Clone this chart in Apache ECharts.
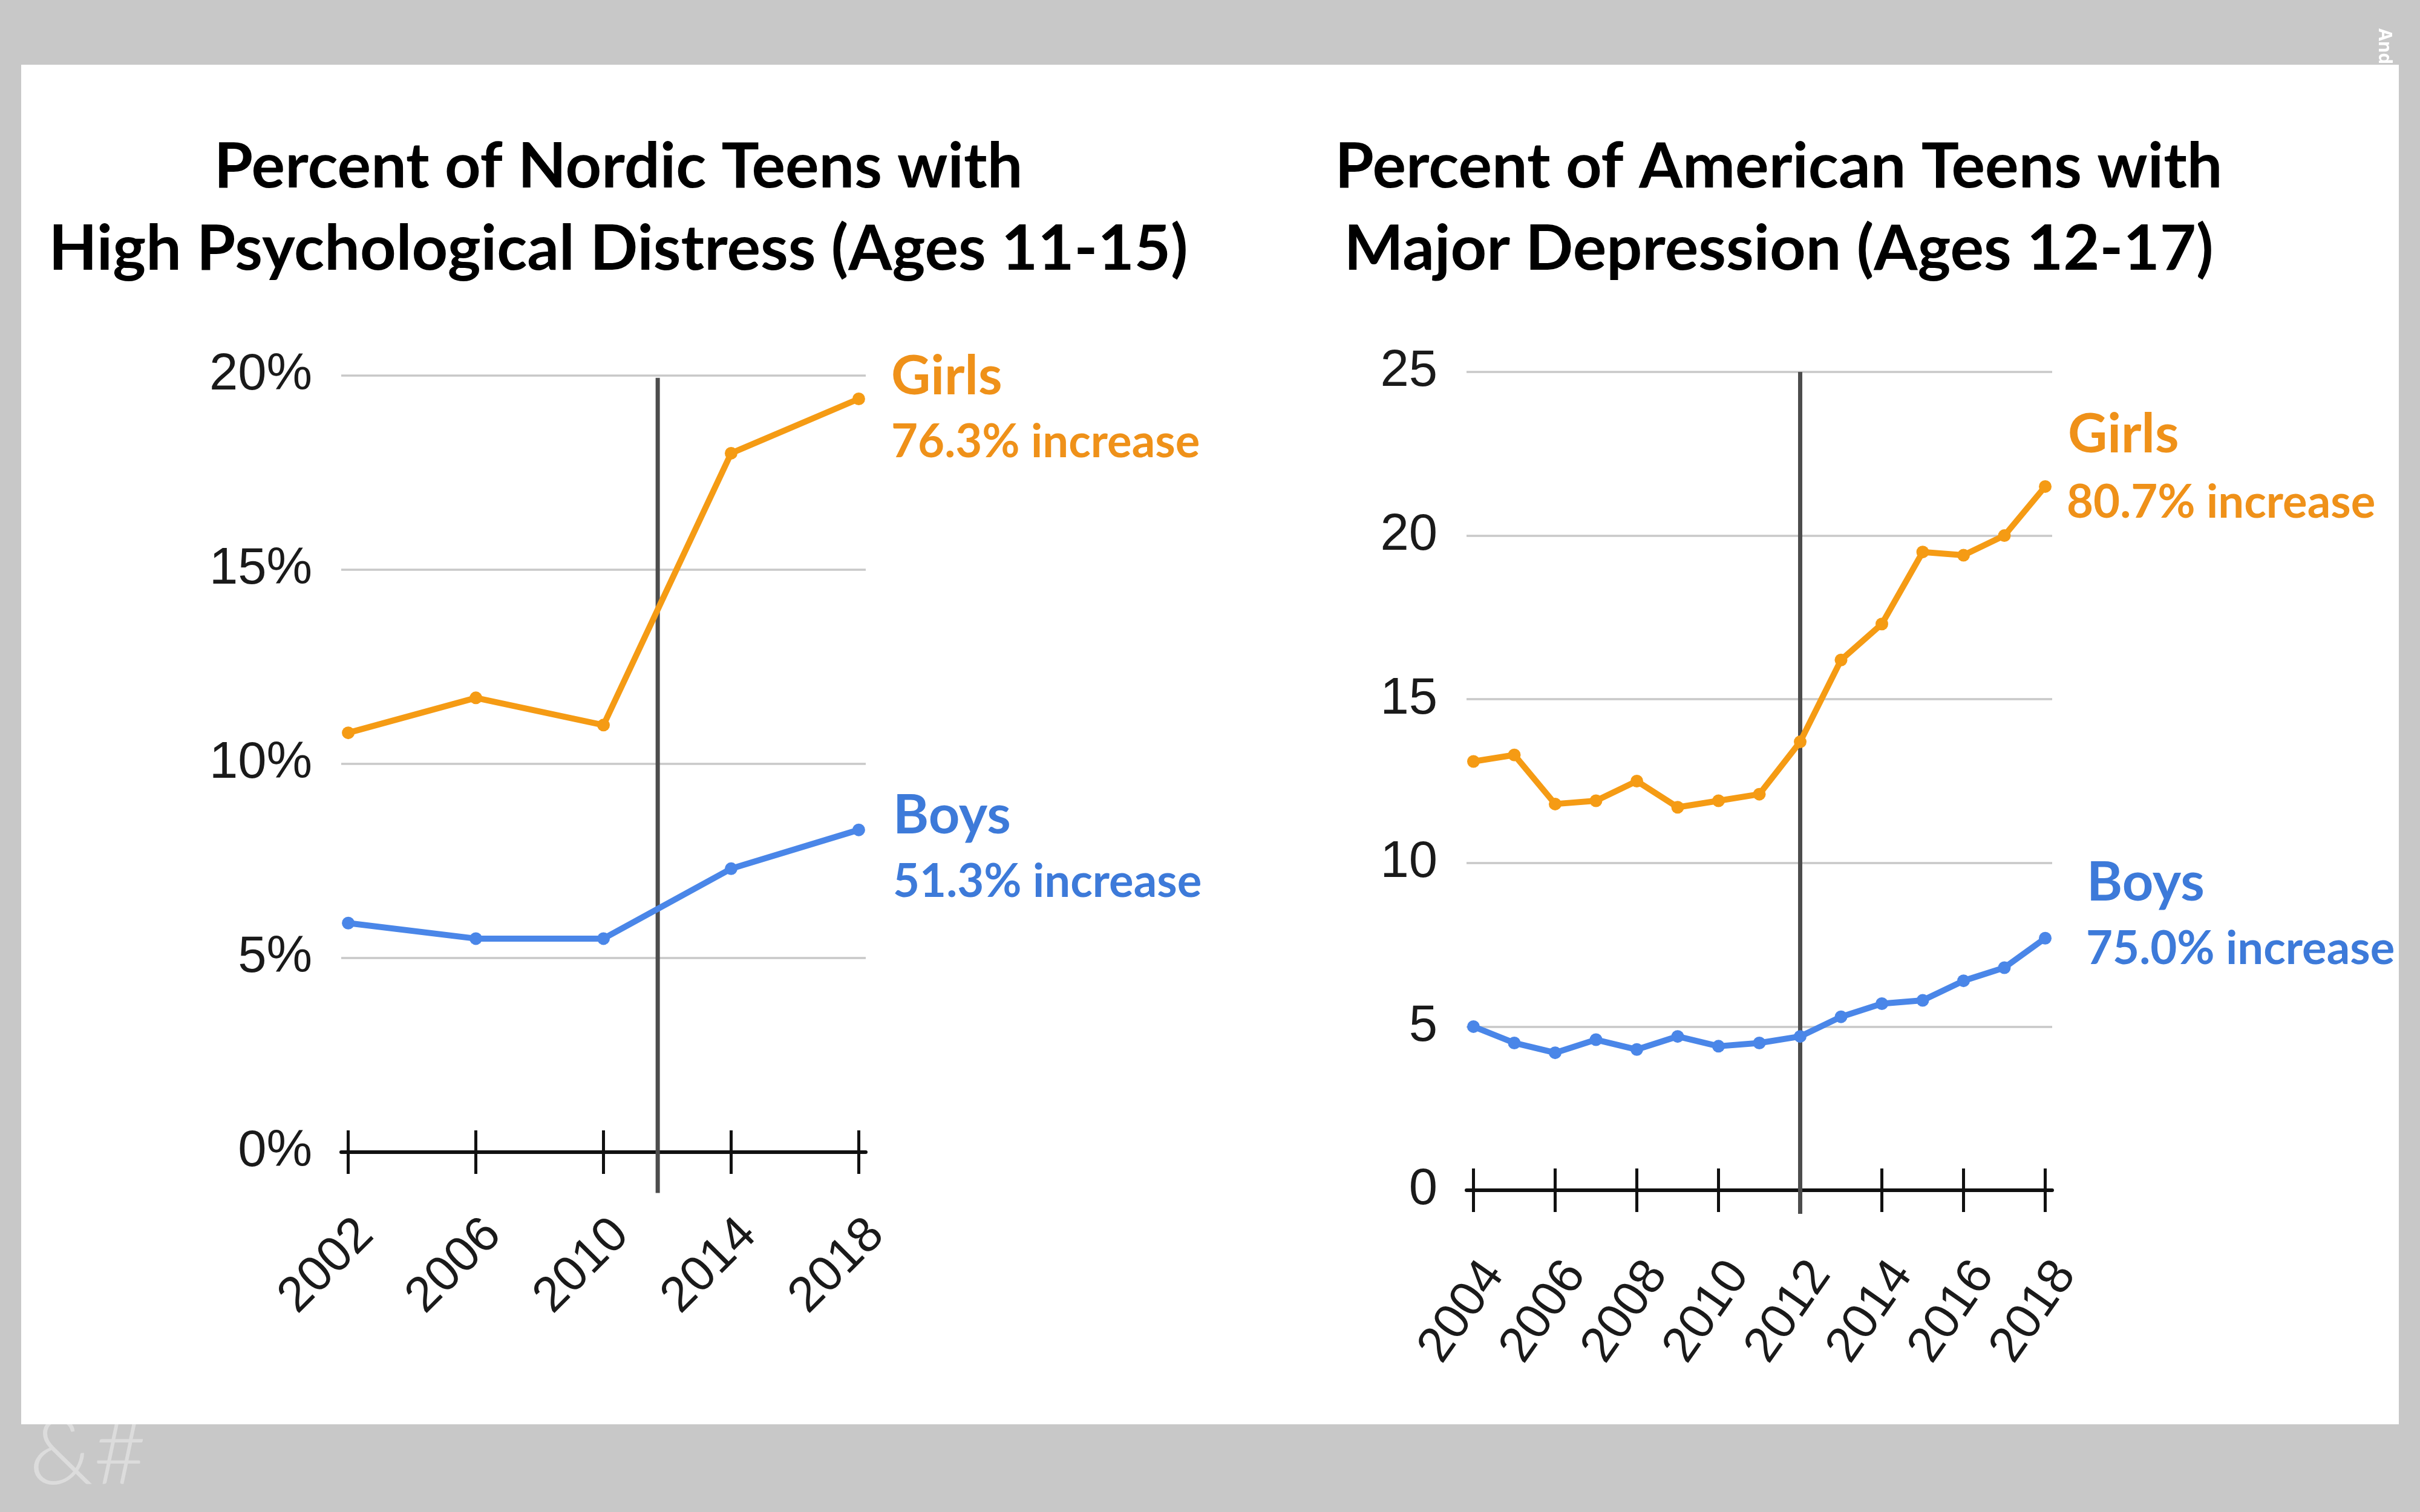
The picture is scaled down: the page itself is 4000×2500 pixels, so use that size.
<!DOCTYPE html>
<html>
<head>
<meta charset="utf-8">
<script src="https://cdn.jsdelivr.net/npm/echarts@6/dist/echarts.min.js"></script>
<style>
  html, body { margin: 0; padding: 0; background: #c8c8c8; }
  #main { width: 4000px; height: 2500px; }
</style>
</head>
<body>
<div id="main"></div>
<script>
// ---------- data ----------
const nordicYears = [2002, 2006, 2010, 2014, 2018];
const nordicGirls = [10.8, 11.7, 11.0, 18.0, 19.4];
const nordicBoys  = [5.9, 5.5, 5.5, 7.3, 8.3];
const nordicTicks = [2002, 2006, 2010, 2014, 2018];
const nordicBreakYear = 2011.7;
const nordicBreakSpan = [19.94, -1.05];

const usYears = [2004, 2005, 2006, 2007, 2008, 2009, 2010, 2011, 2012, 2013, 2014, 2015, 2016, 2017, 2018];
const usGirls = [13.1, 13.3, 11.8, 11.9, 12.5, 11.7, 11.9, 12.1, 13.7, 16.2, 17.3, 19.5, 19.4, 20.0, 21.5];
const usBoys  = [5.0, 4.5, 4.2, 4.6, 4.3, 4.7, 4.4, 4.5, 4.7, 5.3, 5.7, 5.8, 6.4, 6.8, 7.7];
const usTicks = [2004, 2006, 2008, 2010, 2012, 2014, 2016, 2018];
const usBreakYear = 2012;
const usBreakSpan = [25, -0.72];

const titleLeft  = ['Percent of Nordic Teens with', 'High Psychological Distress (Ages 11-15)'];
const titleRight = ['Percent of American Teens with', 'Major Depression (Ages 12-17)'];
const nordicNotes = ['Girls', '76.3% increase', 'Boys', '51.3% increase'];
const usNotes     = ['Girls', '80.7% increase', 'Boys', '75.0% increase'];

// ---------- style ----------
const ORANGE = '#f59b14';
const BLUE = '#4a86e8';
const ORANGE_TXT = '#ef9119';
const BLUE_TXT = '#3d7ad9';
const AXIS = '#111111';
const LABEL = '#1a1a1a';
const GRIDC = '#c8c8c8';

const chart = echarts.init(document.getElementById('main'), null, {renderer: 'canvas', width: 4000, height: 2500});

function pairs(xs, ys) { return xs.map((x, i) => [x, ys[i]]); }

function txt(x, y, text, size, color, align) {
  return {
    type: 'text', x: x, y: y, z: 10, silent: true,
    style: {
      text: text, fontSize: size, fontFamily: 'Lato', fontWeight: 'bold', fill: color,
      textAlign: align, textVerticalAlign: 'middle', align: align, verticalAlign: 'middle'
    }
  };
}

function xAxes(gridIndex, min, max, ticks, rotate, margin) {
  const tickStyle = {color: AXIS, width: 5};
  return [
    {
      gridIndex: gridIndex, type: 'value', min: min, max: max, position: 'bottom', z: 3,
      axisLine: {show: true, onZero: false, lineStyle: {color: AXIS, width: 6}},
      axisTick: {show: true, customValues: ticks, length: 36, inside: false, lineStyle: tickStyle},
      axisLabel: {
        customValues: ticks, formatter: v => String(v), rotate: rotate,
        align: 'right', verticalAlign: 'top', margin: margin,
        fontSize: 82, fontFamily: 'Liberation Sans', color: LABEL
      },
      splitLine: {show: false}
    },
    {
      gridIndex: gridIndex, type: 'value', min: min, max: max, position: 'bottom', z: 3,
      axisLine: {show: false},
      axisTick: {show: true, customValues: ticks, length: 36, inside: true, lineStyle: tickStyle},
      axisLabel: {show: false},
      splitLine: {show: false}
    }
  ];
}

function yAxis(gridIndex, max, fmt) {
  return {
    gridIndex: gridIndex, type: 'value', min: 0, max: max, interval: 5, z: 1,
    axisLine: {show: false}, axisTick: {show: false},
    axisLabel: {formatter: fmt, fontSize: 85, margin: 48, color: LABEL, fontFamily: 'Liberation Sans'},
    splitLine: {show: true, lineStyle: {color: GRIDC, width: 3.5}}
  };
}

function dataLine(xi, yi, data, color) {
  return {
    type: 'line', xAxisIndex: xi, yAxisIndex: yi, data: data, z: 5,
    symbol: 'circle', symbolSize: 21, showSymbol: true,
    lineStyle: {color: color, width: 10}, itemStyle: {color: color},
    emphasis: {disabled: true}
  };
}

function divider(xi, yi, year, span) {
  return {
    type: 'line', xAxisIndex: xi, yAxisIndex: yi, z: 4, clip: false,
    data: [[year, span[0]], [year, span[1]]],
    symbol: 'none', lineStyle: {color: '#4d4d4d', width: 7},
    emphasis: {disabled: true}
  };
}

const option = {
  backgroundColor: '#c8c8c8',
  animation: false,
  grid: [
    {left: 564, top: 621, width: 867, height: 1284, outerBoundsMode: 'none', containLabel: false},
    {left: 2424, top: 615, width: 968, height: 1353, outerBoundsMode: 'none', containLabel: false}
  ],
  xAxis: [].concat(
    xAxes(0, 2001.78, 2018.22, nordicTicks, 45, 95),
    xAxes(1, 2003.83, 2018.17, usTicks, 55, 103)
  ),
  yAxis: [
    yAxis(0, 20, '{value}%'),
    yAxis(1, 25, '{value}')
  ],
  series: [
    divider(0, 0, nordicBreakYear, nordicBreakSpan),
    dataLine(0, 0, pairs(nordicYears, nordicGirls), ORANGE),
    dataLine(0, 0, pairs(nordicYears, nordicBoys), BLUE),
    divider(2, 1, usBreakYear, usBreakSpan),
    dataLine(2, 1, pairs(usYears, usGirls), ORANGE),
    dataLine(2, 1, pairs(usYears, usBoys), BLUE)
  ],
  graphic: {
    elements: [
      {type: 'text', x: 48, y: 2405, z: -3, silent: true,
       style: {text: '&#', fontSize: 152, fontFamily: 'Lato', fontWeight: 300, fill: '#dcdcdc',
               textAlign: 'left', textVerticalAlign: 'middle', align: 'left', verticalAlign: 'middle'}},
      {type: 'text', x: 3926, y: 47, z: -3, rotation: -Math.PI / 2, silent: true,
       style: {text: 'And', fontSize: 30, fontFamily: 'Noto Sans', fontWeight: 'bold', fill: '#ffffff',
               textAlign: 'left', textVerticalAlign: 'bottom', align: 'left', verticalAlign: 'bottom'}},
      {type: 'rect', z: -2, silent: true, shape: {x: 35, y: 107, width: 3930, height: 2248}, style: {fill: '#ffffff'}},
      txt(1022, 276, titleLeft[0], 104, '#000000', 'center'),
      txt(1022, 412, titleLeft[1], 104, '#000000', 'center'),
      txt(2940, 276, titleRight[0], 104, '#000000', 'center'),
      txt(2940, 412, titleRight[1], 104, '#000000', 'center'),
      txt(1473, 623, nordicNotes[0], 90, ORANGE_TXT, 'left'),
      txt(1473, 731, nordicNotes[1], 76, ORANGE_TXT, 'left'),
      txt(1476, 1349, nordicNotes[2], 90, BLUE_TXT, 'left'),
      txt(1476, 1458, nordicNotes[3], 76, BLUE_TXT, 'left'),
      txt(3418, 719, usNotes[0], 90, ORANGE_TXT, 'left'),
      txt(3416, 831, usNotes[1], 76, ORANGE_TXT, 'left'),
      txt(3449, 1460, usNotes[2], 90, BLUE_TXT, 'left'),
      txt(3448, 1569, usNotes[3], 76, BLUE_TXT, 'left')
    ]
  }
};
chart.setOption(option);
</script>
</body>
</html>
